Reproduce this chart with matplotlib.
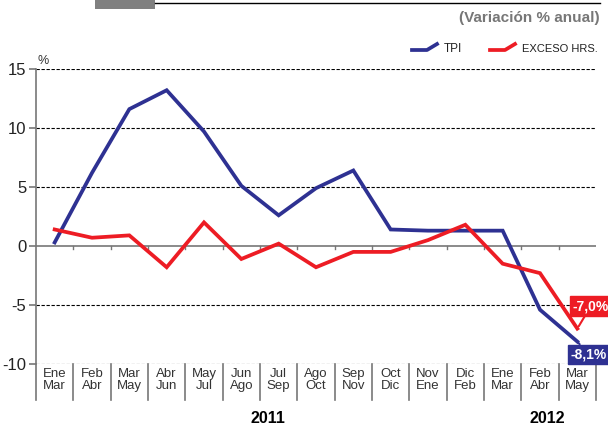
import matplotlib
matplotlib.use("Agg")
import matplotlib.pyplot as plt
import matplotlib.transforms as mtransforms
from matplotlib.patches import Rectangle

plt.rcParams['font.family'] = ['Liberation Sans', 'DejaVu Sans']

categories = ["Ene\nMar", "Feb\nAbr", "Mar\nMay", "Abr\nJun", "May\nJul", "Jun\nAgo",
              "Jul\nSep", "Ago\nOct", "Sep\nNov", "Oct\nDic", "Nov\nEne", "Dic\nFeb",
              "Ene\nMar", "Feb\nAbr", "Mar\nMay"]
tpi = [0.3, 6.2, 11.6, 13.2, 9.7, 5.1, 2.6, 4.9, 6.4, 1.4, 1.3, 1.3, 1.3, -5.4, -8.1]
exceso = [1.4, 0.7, 0.9, -1.8, 2.0, -1.1, 0.2, -1.8, -0.5, -0.5, 0.5, 1.8, -1.5, -2.3, -7.0]
yticks = [-10, -5, 0, 5, 10, 15]
years = ["2011", "2012"]

BLUE = "#2E3192"
RED = "#ED1C24"

fig = plt.figure(figsize=(6.08, 4.26), dpi=100)
ax = fig.add_axes([36/608, 1-364/426, 560/608, 295/426])
x = list(range(len(categories)))

ax.set_xlim(-0.5, len(categories)-0.5)
ax.set_ylim(-10, 15)

for v in yticks:
    if v != 0:
        ax.axhline(v, color="black", lw=0.8, ls=(0, (3, 1.5)), zorder=1)
ax.axhline(0, color="#777777", lw=1.2, zorder=1)

ax.plot(x, tpi, color=BLUE, lw=2.7, zorder=3, solid_joinstyle="miter")
ax.plot(x, exceso, color=RED, lw=2.7, zorder=4, solid_joinstyle="miter")

for s in ["top", "right", "bottom"]:
    ax.spines[s].set_visible(False)
ax.spines["left"].set_color("#777777")
ax.spines["left"].set_linewidth(1.2)
ax.spines["left"].set_bounds(-10, 15)

ax.set_yticks(yticks)
ax.set_yticklabels([str(v) for v in yticks], fontsize=12, color="#222222")
ax.tick_params(axis="y", length=5, width=1.2, color="#777777", pad=2)
ax.set_xticks([])

trans = mtransforms.blended_transform_factory(ax.transData, ax.transAxes)
# category separators below axis
for b in range(len(categories)+1):
    xb = b - 0.5
    ax.plot([xb, xb], [0, -36/295], transform=trans, color="#777777", lw=1.2, clip_on=False)
    if 0 < b < len(categories):
        ax.plot([xb, xb], [0, -0.25], color="#777777", lw=1.0, zorder=2)
for i, c in enumerate(categories):
    ax.text(i, -10.35, c, ha="center", va="top", fontsize=9.5, color="#333333", linespacing=0.95)

ax.text(5.7, -14.6, years[0], ha="center", va="center", fontsize=11.5, fontweight="bold")
ax.text(13.2, -14.6, years[1], ha="center", va="center", fontsize=11.5, fontweight="bold")

ax.text(-0.45, 15.2, "%", ha="left", va="bottom", fontsize=9, color="#333333")

# value labels
ax.annotate("-7,0%", xy=(x[-1], exceso[-1]), xytext=(x[-1]+0.36, -5.1),
            ha="center", va="center", fontsize=10, fontweight="bold", color="white",
            bbox=dict(boxstyle="square,pad=0.2", fc=RED, ec=RED),
            arrowprops=dict(arrowstyle="-", color=RED, lw=1.5, shrinkA=0, shrinkB=2), zorder=6)
ax.annotate("-8,1%", xy=(x[-1], tpi[-1]), xytext=(x[-1]+0.3, -9.2),
            ha="center", va="center", fontsize=10, fontweight="bold", color="white",
            bbox=dict(boxstyle="square,pad=0.2", fc=BLUE, ec=BLUE),
            arrowprops=dict(arrowstyle="-", color=BLUE, lw=1.5, shrinkA=0, shrinkB=0), zorder=6)

# header
fig.add_artist(Rectangle((95/608, 1-9/426), 60/608, 9/426, transform=fig.transFigure,
                         fc="#808080", ec="none"))
fig.add_artist(plt.Line2D([155/608, 600/608], [1-3/426, 1-3/426], transform=fig.transFigure,
                          color="black", lw=1.0))
fig.text(600/608, 1-18/426, "(Variación % anual)", ha="right", va="center",
         fontsize=11, fontweight="bold", color="#777777")

# legend
def leg_sym(x0, color):
    xs = [x0, x0+15/608, x0+25/608]
    ys = [1-50/426, 1-50/426, 1-44/426]
    fig.add_artist(plt.Line2D(xs, ys, transform=fig.transFigure, color=color, lw=2.7))
leg_sym(412/608, BLUE)
fig.text(444/608, 1-49/426, "TPI", ha="left", va="center", fontsize=8.5, color="#222222")
leg_sym(490/608, RED)
fig.text(522/608, 1-49/426, "EXCESO HRS.", ha="left", va="center", fontsize=8, color="#222222")

fig.savefig("out.png", dpi=100)
